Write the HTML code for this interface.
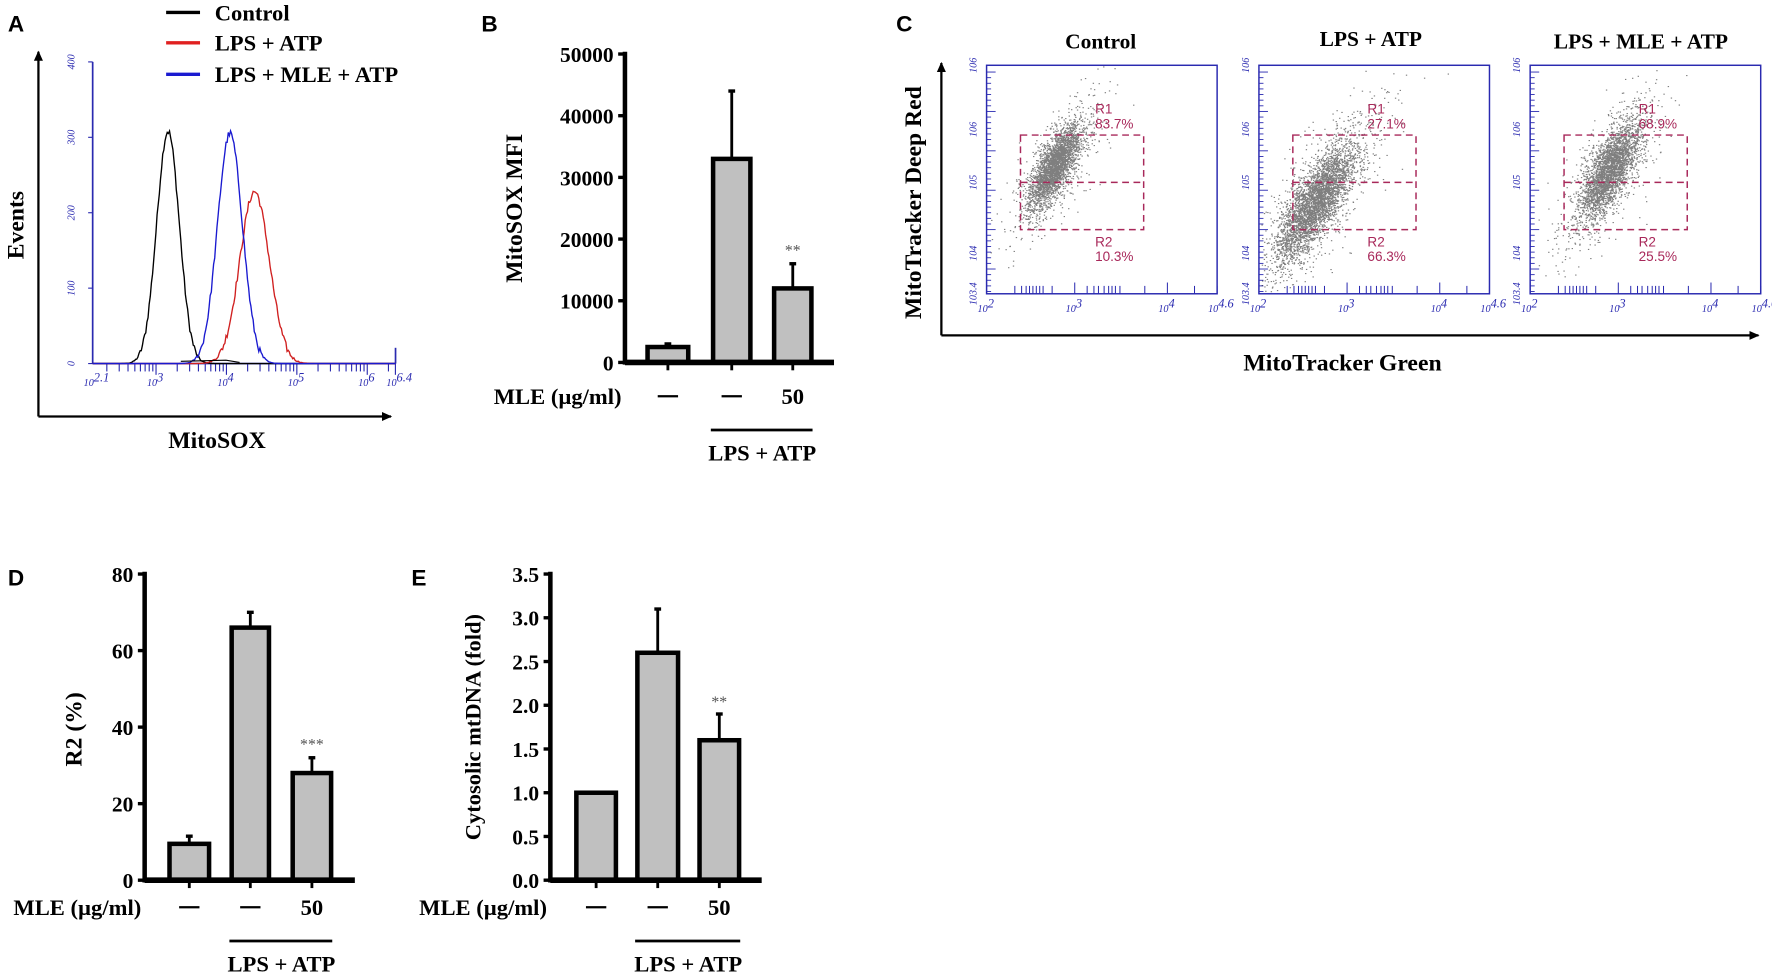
<!DOCTYPE html>
<html><head><meta charset="utf-8"><style>
html,body{margin:0;padding:0;background:#fff;}
svg{display:block}
.t{font-family:"Liberation Serif",serif;font-weight:bold;fill:#000}
.p{font-family:"Liberation Sans",sans-serif;font-weight:bold;font-size:20px;fill:#000}
.bl{font-family:"Liberation Serif",serif;font-size:9px;fill:#2a2ab0;font-style:italic}
.rd{font-family:"Liberation Sans",sans-serif;font-size:12px;fill:#a8285a}
</style></head><body>
<svg id="s" width="1772" height="977" viewBox="0 0 1568 868" preserveAspectRatio="none" xmlns="http://www.w3.org/2000/svg">
<defs>
<marker id="ar" markerWidth="10" markerHeight="10" refX="8" refY="5" orient="auto" markerUnits="userSpaceOnUse"><path d="M0,1 L9,5 L0,9 Z" fill="#000"/></marker>
</defs>
<text class="p" x="7" y="28">A</text>
<line x1="147" y1="11" x2="177" y2="11" stroke="#000" stroke-width="3"/>
<line x1="147" y1="38" x2="177" y2="38" stroke="#e02020" stroke-width="3"/>
<line x1="147" y1="66" x2="177" y2="66" stroke="#1a1ad0" stroke-width="3"/>
<text class="t" x="190" y="18" font-size="20">Control</text>
<text class="t" x="190" y="45" font-size="20">LPS + ATP</text>
<text class="t" x="190" y="73" font-size="20">LPS + MLE + ATP</text>
<line x1="34" y1="370" x2="34" y2="46" stroke="#000" stroke-width="2" marker-end="url(#ar)"/>
<line x1="34" y1="370" x2="346" y2="370" stroke="#000" stroke-width="2" marker-end="url(#ar)"/>
<text class="t" font-size="21" transform="translate(21,200) rotate(-90)" text-anchor="middle">Events</text>
<text class="t" font-size="21" x="192" y="398" text-anchor="middle">MitoSOX</text>
<g id="histA"></g>
<text class="p" x="426" y="28">B</text>
<g id="barB"></g>
<text class="t" font-size="21" transform="translate(462,185) rotate(-90)" text-anchor="middle">MitoSOX MFI</text>
<text class="p" x="793" y="28">C</text>
<text class="t" font-size="19" x="974" y="43" text-anchor="middle">Control</text>
<text class="t" font-size="19" x="1213" y="41" text-anchor="middle">LPS + ATP</text>
<text class="t" font-size="19" x="1452" y="43" text-anchor="middle">LPS + MLE + ATP</text>
<line x1="833" y1="298" x2="833" y2="56" stroke="#000" stroke-width="2" marker-end="url(#ar)"/>
<line x1="833" y1="298" x2="1556" y2="298" stroke="#000" stroke-width="2" marker-end="url(#ar)"/>
<text class="t" font-size="21" transform="translate(815,180) rotate(-90)" text-anchor="middle">MitoTracker Deep Red</text>
<text class="t" font-size="21" x="1188" y="329" text-anchor="middle">MitoTracker Green</text>
<g id="scatC"></g>
<text class="p" x="7" y="520">D</text>
<g id="barD"></g>
<text class="t" font-size="21" transform="translate(72,648) rotate(-90)" text-anchor="middle">R2 (%)</text>
<text class="p" x="364" y="520">E</text>
<g id="barE"></g>
<text class="t" font-size="20" transform="translate(425,646) rotate(-90)" text-anchor="middle">Cytosolic mtDNA (fold)</text>
</svg>
<script>
var NS="http://www.w3.org/2000/svg";
function el(p,n,a,txt){var e=document.createElementNS(NS,n);for(var k in a)e.setAttribute(k,a[k]);if(txt!==undefined)e.textContent=txt;p.appendChild(e);return e;}
var seed=12345;function rnd(){seed=(seed*1103515245+12345)%2147483648;return seed/2147483648;}
function gauss(){var u=rnd()||1e-9,v=rnd();return Math.sqrt(-2*Math.log(u))*Math.cos(2*Math.PI*v);}
(function(){
var g=document.getElementById('histA'),B="#2a2ab0";
var x0=82,x1=350,y0=323,yt=55;
el(g,'line',{x1:x0,y1:y0,x2:x0,y2:yt,stroke:B,'stroke-width':1.5});
el(g,'line',{x1:x0,y1:y0,x2:x1,y2:y0,stroke:B,'stroke-width':1.5});
el(g,'line',{x1:x1,y1:y0,x2:x1,y2:y0-14,stroke:B,'stroke-width':1.5});
[0,100,200,300,400].forEach(function(v){var y=y0-v*0.67;el(g,'line',{x1:x0-4,y1:y,x2:x0,y2:y,stroke:B});
el(g,'text',{class:'bl','font-size':11,transform:'translate('+(x0-16)+','+y+') rotate(-90)','text-anchor':'middle'},v);});
var dec=62.3;function X(l){return x0+(l-2.1)*dec;}
for(var d=2;d<=6;d++){for(var m=1;m<10;m++){var l=d+Math.log10(m);if(l<2.1||l>6.4)continue;var big=m==1;el(g,'line',{x1:X(l),y1:y0,x2:X(l),y2:y0+(big?10:7),stroke:B});}}
el(g,'line',{x1:X(6.4),y1:y0,x2:X(6.4),y2:y0+10,stroke:B});
[['2.1',2.1],['3',3],['4',4],['5',5],['6',6],['6.4',6.4]].forEach(function(a){var x=X(a[1]);
var t=el(g,'text',{class:'bl',x:x-8,y:y0+20,'font-size':7},'10');el(t,'tspan',{dy:-4,'font-size':11},a[0]);});
function hist(mu,sig,h,col){var d='';for(var x=x0;x<=x1;x+=1){var v=h*Math.exp(-0.5*Math.pow((x-mu)/sig,2));v+=(rnd()-0.5)*Math.min(v,20)*0.5;if(v<0)v=0;var y=y0-v*0.67;d+=(d?'L':'M')+x+','+y.toFixed(1);}el(g,'path',{d:d,fill:'none',stroke:col,'stroke-width':1.2});}
hist(X(3.17),10,308,'#000');
hist(X(4.4),13,228,'#d02020');
hist(X(4.05),11,305,'#1a1ad0');
el(g,'path',{d:'M160,321 L200,320 L212,322',fill:'none',stroke:'#000','stroke-width':1});
})();
function bars(gid,o){
var g=document.getElementById(gid);
var sc=(o.y0-o.yt)/o.max;function Y(v){return o.y0-v*sc;}
o.ticks.forEach(function(t){var y=Y(t[0]);el(g,'line',{x1:o.ax-6,y1:y,x2:o.ax,y2:y,stroke:'#000','stroke-width':3});
el(g,'text',{class:'t','font-size':o.fs,x:o.ax-10,y:y+7,'text-anchor':'end'},t[1]);});
o.bars.forEach(function(b){
var cx=(b[0]+b[1])/2;
el(g,'line',{x1:cx,y1:Y(b[2]),x2:cx,y2:Y(b[3]),stroke:'#000','stroke-width':2.5});
el(g,'line',{x1:cx-3,y1:Y(b[3]),x2:cx+3,y2:Y(b[3]),stroke:'#000','stroke-width':3});
el(g,'rect',{x:b[0],y:Y(b[2]),width:b[1]-b[0],height:o.y0-Y(b[2]),fill:'#c0c0c0',stroke:'#000','stroke-width':4});
el(g,'line',{x1:cx,y1:o.y0,x2:cx,y2:o.y0+7,stroke:'#000','stroke-width':2.5});
});
el(g,'line',{x1:o.ax,y1:o.yt-2,x2:o.ax,y2:o.y0+2,stroke:'#000','stroke-width':4});
el(g,'line',{x1:o.ax,y1:o.y0,x2:o.axr,y2:o.y0,stroke:'#000','stroke-width':5});
var b3=o.bars[2];el(g,'text',{x:(b3[0]+b3[1])/2,y:o.star[1],'text-anchor':'middle','font-family':'Liberation Serif,serif','font-size':14,fill:'#555'},o.star[0]);
el(g,'text',{class:'t','font-size':20,x:o.ax-3,y:o.my,'text-anchor':'end'},'MLE (µg/ml)');
var c=o.bars.map(function(b){return (b[0]+b[1])/2;});
el(g,'line',{x1:c[0]-9,y1:o.my-7,x2:c[0]+9,y2:o.my-7,stroke:'#000','stroke-width':2});
el(g,'line',{x1:c[1]-9,y1:o.my-7,x2:c[1]+9,y2:o.my-7,stroke:'#000','stroke-width':2});
el(g,'text',{class:'t','font-size':20,x:c[2],y:o.my,'text-anchor':'middle'},'50');
el(g,'line',{x1:o.bars[1][0]-2,y1:o.my+23,x2:o.bars[2][1]+1,y2:o.my+23,stroke:'#000','stroke-width':2.5});
el(g,'text',{class:'t','font-size':20,x:(o.bars[1][0]+o.bars[2][1])/2,y:o.my+50,'text-anchor':'middle'},'LPS + ATP');
}
bars('barB',{ax:553,axr:738,y0:322,yt:48,max:50000,fs:19,
ticks:[[0,'0'],[10000,'10000'],[20000,'20000'],[30000,'30000'],[40000,'40000'],[50000,'50000']],
bars:[[573,609,2500,3000],[631,664,33000,44000],[685,718,12000,16000]],star:['**',227],my:359});
bars('barD',{ax:128,axr:314,y0:782,yt:510,max:80,fs:19,
ticks:[[0,'0'],[20,'20'],[40,'40'],[60,'60'],[80,'80']],
bars:[[150,185,9.5,11.5],[205,238,66,70],[259,293,28,32]],star:['***',666],my:813});
bars('barE',{ax:487,axr:674,y0:782,yt:510,max:3.5,fs:19,
ticks:[[0,'0.0'],[0.5,'0.5'],[1,'1.0'],[1.5,'1.5'],[2,'2.0'],[2.5,'2.5'],[3,'3.0'],[3.5,'3.5']],
bars:[[510,545,1.0,1.0],[564,600,2.6,3.1],[619,654,1.6,1.9]],star:['**',628],my:813});
(function(){
var g=document.getElementById('scatC'),B="#2a2ab0",R="#a8285a";
var boxes=[873,1114,1354],W=204,yt=58,yb=261;
var cfg=[{cx:60,cy:148,sx:11,sy:20,n:3200,r1:'83.7%',r2:'10.3%'},
{cx:50,cy:180,sx:17,sy:26,n:4200,r1:'27.1%',r2:'66.3%'},
{cx:70,cy:152,sx:13,sy:24,n:3300,r1:'68.9%',r2:'25.5%'}];
boxes.forEach(function(bx,i){
var c=cfg[i];
el(g,'rect',{x:bx,y:yt,width:W,height:yb-yt,fill:'none',stroke:B,'stroke-width':1.3});
var ylab=[['6',58],['6',115],['5',162],['4',225],['3.4',261]];
for(var k=0;k<40;k++){var y=yt+6+k*5;if(y>yb)break;el(g,'line',{x1:bx,y1:y,x2:bx+(k%7==0?8:4),y2:y,stroke:B,'stroke-width':0.8});}
ylab.forEach(function(a){el(g,'text',{class:'bl','font-size':10,transform:'translate('+(bx-9)+','+a[1]+') rotate(-90)','text-anchor':'middle'},'10'+a[0]);});
var xs=[0,25,31,35,38,41,44,47,50,58,78,89,95,99,104,108,111,114,118,140,160,184,204];
xs.forEach(function(x,j){el(g,'line',{x1:bx+x,y1:yb,x2:bx+x,y2:yb-((j==0||x==78||x==160)?10:7),stroke:B,'stroke-width':0.9});});
[['2',0],['3',78],['4',160],['4.6',204]].forEach(function(a){var t=el(g,'text',{class:'bl',x:bx+a[1]-8,y:yb+16,'font-size':7},'10');el(t,'tspan',{dy:-4,'font-size':11},a[0]);});
var d='';
for(var p=0;p<c.n;p++){var a=gauss(),b=gauss();var f=(p%5==0?1.8:1);var x=c.cx+a*c.sx*f,y=c.cy-a*c.sx*1.17*f+b*c.sy*0.6*f;
if(x<1||x>W-1||y<yt+1||y>yb-1)continue;x=x+bx;d+='M'+x.toFixed(1)+','+y.toFixed(1)+'h1.2';}
el(g,'path',{d:d,stroke:'#000','stroke-width':1,fill:'none','stroke-opacity':0.5});
var gx1=bx+30,gx2=bx+139;
el(g,'rect',{x:gx1,y:120,width:gx2-gx1,height:84,fill:'none',stroke:R,'stroke-width':1.3,'stroke-dasharray':'6,4'});
el(g,'line',{x1:gx1,y1:162,x2:gx2,y2:162,stroke:R,'stroke-width':1.3,'stroke-dasharray':'6,4'});
el(g,'text',{class:'rd',x:bx+96,y:101},'R1');el(g,'text',{class:'rd',x:bx+96,y:114},c.r1);
el(g,'text',{class:'rd',x:bx+96,y:219},'R2');el(g,'text',{class:'rd',x:bx+96,y:232},c.r2);
});
})();
</script>
</body></html>
